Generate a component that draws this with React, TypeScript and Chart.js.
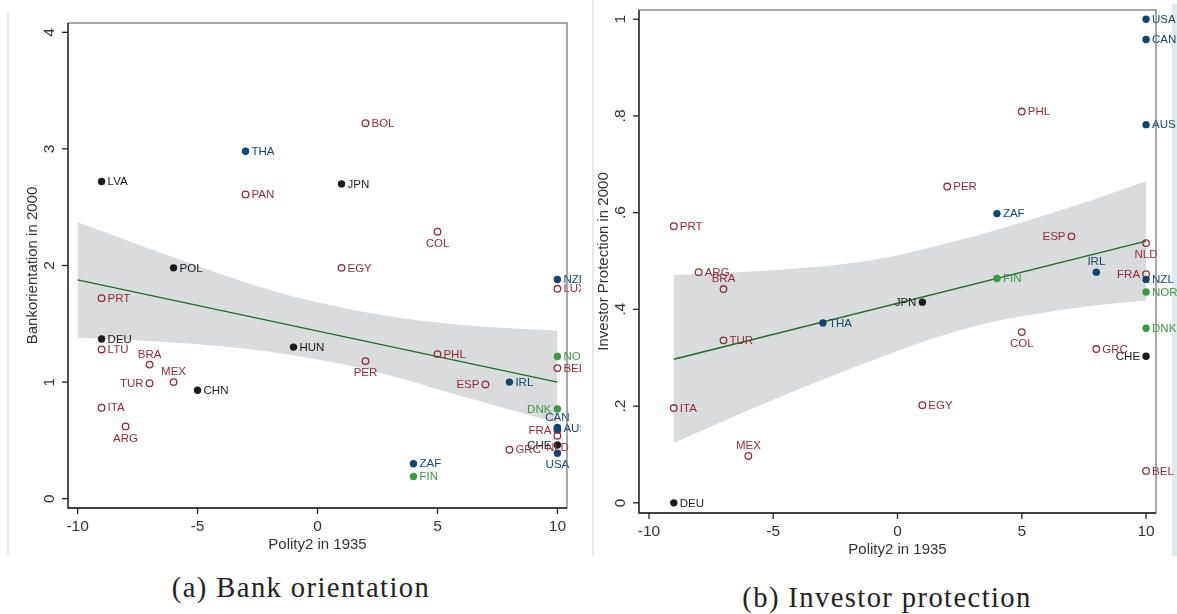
import { useEffect, useRef } from "react";
import Chart from "chart.js/auto";

// ---- panel (a): bank orientation vs polity2 ----
const bankCountries = ["LVA", "THA", "PAN", "POL", "PRT", "DEU", "LTU", "BRA", "MEX", "TUR", "CHN", "ITA", "ARG", "BOL", "JPN", "COL", "EGY", "NZL", "LUX", "HUN", "PER", "PHL", "NOR", "BEL", "ESP", "IRL", "DNK", "CAN", "AUS", "FRA", "NLD", "CHE", "GRC", "USA", "ZAF", "FIN"];
const bankPolity = [-9, -3, -3, -6, -9, -9, -9, -7, -6, -7, -5, -9, -8, 2, 1, 5, 1, 10, 10, -1, 2, 5, 10, 10, 7, 8, 10, 10, 10, 10, 10, 10, 8, 10, 4, 4];
const bankOrientation = [2.72, 2.98, 2.61, 1.98, 1.72, 1.37, 1.28, 1.15, 1.0, 0.99, 0.93, 0.78, 0.62, 3.22, 2.7, 2.29, 1.98, 1.88, 1.8, 1.3, 1.18, 1.24, 1.22, 1.12, 0.98, 1.0, 0.77, 0.61, 0.6, 0.59, 0.54, 0.46, 0.42, 0.39, 0.3, 0.19];
const bankFitX = [-10, 10];
const bankFitY = [1.877, 1.0];
const bankBandX = [-10, -6, -2, 2, 6, 10];
const bankBandUpper = [2.37, 2.07, 1.79, 1.6, 1.49, 1.44];
const bankBandLower = [1.38, 1.34, 1.26, 1.11, 0.88, 0.65];
const bankYTicks = [0, 1, 2, 3, 4];
const bankYTickLabels = ["0", "1", "2", "3", "4"];

// ---- panel (b): investor protection vs polity2 ----
const investCountries = ["USA", "CAN", "AUS", "PHL", "PER", "ZAF", "ESP", "NLD", "IRL", "FRA", "NZL", "NOR", "FIN", "JPN", "DNK", "COL", "GRC", "CHE", "EGY", "BEL", "PRT", "ARG", "BRA", "TUR", "THA", "ITA", "MEX", "DEU"];
const investPolity = [10, 10, 10, 5, 2, 4, 7, 10, 8, 10, 10, 10, 4, 1, 10, 5, 8, 10, 1, 10, -9, -8, -7, -7, -3, -9, -6, -9];
const investProtection = [1.0, 0.958, 0.782, 0.809, 0.654, 0.598, 0.551, 0.537, 0.477, 0.473, 0.462, 0.436, 0.464, 0.415, 0.361, 0.353, 0.318, 0.303, 0.202, 0.066, 0.572, 0.477, 0.442, 0.336, 0.372, 0.196, 0.097, 0.0];
const investFitX = [-9, 10];
const investFitY = [0.297, 0.541];
const investBandX = [-9, -5, -1, 3, 7, 10];
const investBandUpper = [0.471, 0.481, 0.502, 0.55, 0.612, 0.665];
const investBandLower = [0.124, 0.213, 0.295, 0.364, 0.402, 0.419];
const investYTicks = [0, 0.2, 0.4, 0.6, 0.8, 1];
const investYTickLabels = ["0", ".2", ".4", ".6", ".8", "1"];

const xTicks = [-10, -5, 0, 5, 10];

// legal origin groups (rest are French)
const germanOrigin = ["LVA", "POL", "DEU", "CHN", "HUN", "JPN", "CHE"];
const englishOrigin = ["THA", "NZL", "IRL", "CAN", "AUS", "USA", "ZAF"];
const scandinavianOrigin = ["NOR", "DNK", "FIN"];

type Pos = "r" | "l" | "t" | "b";
const bankLabelPos: Record<string, Pos> = {
  BRA: "t", MEX: "t", TUR: "l", ARG: "b", COL: "b", PER: "b", ESP: "l",
  DNK: "l", CAN: "t", FRA: "l", NLD: "b", CHE: "l", USA: "b",
};
const investLabelPos: Record<string, Pos> = {
  ESP: "l", NLD: "b", IRL: "t", FRA: "l", JPN: "l", COL: "b", CHE: "l", BRA: "t", MEX: "t",
};

const RED = "#8f2d3a";
const BLUE = "#11466f";
const GREEN = "#3a9a42";
const BLACK = "#1c1c1c";
const FIT = "#1f6e28";
const BAND = "#dadbdc";
const SANS = "'Liberation Sans', Arial, sans-serif";

interface PanelProps {
  left: number;
  width: number;
  height: number;
  pad: { left: number; right: number; top: number; bottom: number };
  yMin: number;
  yMax: number;
  countries: string[];
  xs: number[];
  ys: number[];
  fitX: number[];
  fitY: number[];
  bandX: number[];
  bandUpper: number[];
  bandLower: number[];
  yTicks: number[];
  yTickLabels: string[];
  yTitle: string;
  labelPos: Record<string, Pos>;
}

const ScatterPanel = (p: PanelProps) => {
  const canvasRef = useRef<HTMLCanvasElement>(null);

  useEffect(() => {
    if (!canvasRef.current) return;
    const ctx = canvasRef.current.getContext("2d");
    if (!ctx) return;

    const groupDefs = [
      { color: BLACK, hollow: false, test: (c: string) => germanOrigin.includes(c) },
      { color: BLUE, hollow: false, test: (c: string) => englishOrigin.includes(c) },
      { color: GREEN, hollow: false, test: (c: string) => scandinavianOrigin.includes(c) },
      { color: RED, hollow: true, test: (c: string) => !germanOrigin.includes(c) && !englishOrigin.includes(c) && !scandinavianOrigin.includes(c) },
    ];
    const groups = groupDefs.map(g => {
      const names: string[] = [];
      const pts: { x: number; y: number }[] = [];
      p.countries.forEach((c, i) => {
        if (g.test(c)) {
          names.push(c);
          pts.push({ x: p.xs[i], y: p.ys[i] });
        }
      });
      return { ...g, names, pts };
    });

    const pointSets: any[] = groups.map(g => ({
      type: "scatter",
      data: g.pts,
      pointRadius: g.hollow ? 3.3 : 3.7,
      pointBackgroundColor: g.hollow ? "rgba(255,255,255,0)" : g.color,
      pointBorderColor: g.color,
      pointBorderWidth: g.hollow ? 1.3 : 0,
      showLine: false,
      order: 0,
    }));

    const decor = {
      id: "decor",
      afterDatasetsDraw(chart: any) {
        const c = chart.ctx;
        c.save();
        c.font = `11.5px ${SANS}`;
        groups.forEach((g, gi) => {
          const meta = chart.getDatasetMeta(gi);
          meta.data.forEach((el: any, j: number) => {
            const name = g.names[j];
            const pos = p.labelPos[name] || "r";
            c.fillStyle = g.color;
            c.textBaseline = "middle";
            if (pos === "r") { c.textAlign = "left"; c.fillText(name, el.x + 6, el.y + 0.5); }
            if (pos === "l") { c.textAlign = "right"; c.fillText(name, el.x - 6, el.y + 0.5); }
            if (pos === "t") { c.textAlign = "center"; c.fillText(name, el.x, el.y - 10); }
            if (pos === "b") { c.textAlign = "center"; c.fillText(name, el.x, el.y + 12); }
          });
        });
        c.restore();
      },
      afterDraw(chart: any) {
        const c = chart.ctx;
        const a = chart.chartArea;
        const xs = chart.scales.x;
        const ys = chart.scales.y;
        c.save();
        // plot region box
        c.strokeStyle = "#6e6e6e";
        c.lineWidth = 1.2;
        c.strokeRect(a.left, a.top, a.right - a.left, a.bottom - a.top);
        // axes
        c.strokeStyle = "#222";
        c.lineWidth = 1.3;
        c.beginPath();
        c.moveTo(a.left, a.top);
        c.lineTo(a.left, a.bottom);
        c.lineTo(a.right, a.bottom);
        c.stroke();
        // ticks
        c.fillStyle = "#333";
        c.font = `15.5px ${SANS}`;
        c.textAlign = "center";
        c.textBaseline = "middle";
        xTicks.forEach(v => {
          const px = xs.getPixelForValue(v);
          c.beginPath();
          c.moveTo(px, a.bottom);
          c.lineTo(px, a.bottom + 6);
          c.stroke();
          c.fillText(String(v), px, a.bottom + 19);
        });
        p.yTicks.forEach((v, i) => {
          const py = ys.getPixelForValue(v);
          c.beginPath();
          c.moveTo(a.left - 6, py);
          c.lineTo(a.left, py);
          c.stroke();
          c.save();
          c.translate(a.left - 18, py);
          c.rotate(-Math.PI / 2);
          c.fillText(p.yTickLabels[i], 0, 0);
          c.restore();
        });
        // titles
        c.font = `15px ${SANS}`;
        c.fillText("Polity2 in 1935", (a.left + a.right) / 2, a.bottom + 37);
        c.save();
        c.translate(a.left - 35, (a.top + a.bottom) / 2);
        c.rotate(-Math.PI / 2);
        c.fillText(p.yTitle, 0, 0);
        c.restore();
        c.restore();
      },
    };

    const chart = new Chart(ctx, {
      type: "scatter",
      data: {
        datasets: [
          ...pointSets,
          {
            type: "line",
            data: p.fitX.map((x, i) => ({ x, y: p.fitY[i] })),
            borderColor: FIT,
            borderWidth: 1.4,
            pointRadius: 0,
            showLine: true,
            fill: false,
            order: 1,
          },
          {
            type: "line",
            data: p.bandX.map((x, i) => ({ x, y: p.bandUpper[i] })),
            borderWidth: 0,
            borderColor: "rgba(0,0,0,0)",
            backgroundColor: BAND,
            pointRadius: 0,
            showLine: true,
            cubicInterpolationMode: "monotone",
            fill: "+1",
            order: 2,
          },
          {
            type: "line",
            data: p.bandX.map((x, i) => ({ x, y: p.bandLower[i] })),
            borderWidth: 0,
            borderColor: "rgba(0,0,0,0)",
            pointRadius: 0,
            showLine: true,
            cubicInterpolationMode: "monotone",
            fill: false,
            order: 2,
          },
        ],
      },
      options: {
        animation: false,
        responsive: false,
        devicePixelRatio: 1,
        layout: { padding: p.pad },
        plugins: { legend: { display: false }, tooltip: { enabled: false } },
        scales: {
          x: { type: "linear", display: false, min: -10.4, max: 10.4 },
          y: { type: "linear", display: false, min: p.yMin, max: p.yMax },
        },
      },
      plugins: [decor],
    } as any);

    return () => chart.destroy();
  }, []);

  return (
    <canvas
      ref={canvasRef}
      width={p.width}
      height={p.height}
      style={{ position: "absolute", left: p.left, top: 0, width: p.width, height: p.height }}
    />
  );
};

const captionStyle = (center: number, top: number): React.CSSProperties => ({
  position: "absolute",
  left: center - 250,
  width: 500,
  top,
  textAlign: "center",
  fontFamily: "'Liberation Serif', 'Times New Roman', serif",
  fontSize: 28.6,
  letterSpacing: 1.4,
  lineHeight: "30px",
  color: "#222",
});

export default function App() {
  return (
    <div style={{ position: "fixed", left: 0, top: 0, width: 1177, height: 614, background: "#fff", overflow: "hidden" }}>
      <div style={{ position: "absolute", left: 7, top: 12, width: 2, height: 543, background: "#e6ebed" }} />
      <div style={{ position: "absolute", left: 592, top: 0, width: 2, height: 556, background: "#e6ebed" }} />
      <div style={{ position: "absolute", left: 1172, top: 4, width: 5, height: 552, background: "#e3eaee" }} />
      <ScatterPanel
        left={0}
        width={581}
        height={560}
        pad={{ left: 68, right: 14, top: 23, bottom: 52 }}
        yMin={-0.08}
        yMax={4.08}
        countries={bankCountries}
        xs={bankPolity}
        ys={bankOrientation}
        fitX={bankFitX}
        fitY={bankFitY}
        bandX={bankBandX}
        bandUpper={bankBandUpper}
        bandLower={bankBandLower}
        yTicks={bankYTicks}
        yTickLabels={bankYTickLabels}
        yTitle="Bankorientation in 2000"
        labelPos={bankLabelPos}
      />
      <ScatterPanel
        left={590}
        width={587}
        height={560}
        pad={{ left: 49, right: 21, top: 10, bottom: 47 }}
        yMin={-0.021}
        yMax={1.019}
        countries={investCountries}
        xs={investPolity}
        ys={investProtection}
        fitX={investFitX}
        fitY={investFitY}
        bandX={investBandX}
        bandUpper={investBandUpper}
        bandLower={investBandLower}
        yTicks={investYTicks}
        yTickLabels={investYTickLabels}
        yTitle="Investor Protection in 2000"
        labelPos={investLabelPos}
      />
      <div style={captionStyle(301, 573)}>(a) Bank orientation</div>
      <div style={captionStyle(887, 583)}>(b) Investor protection</div>
    </div>
  );
}
